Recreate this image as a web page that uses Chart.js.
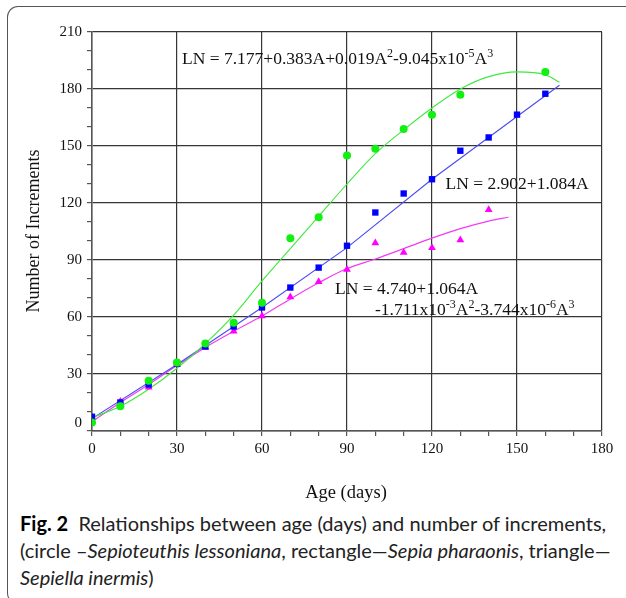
<!DOCTYPE html>
<html lang="en">
<head>
  <meta charset="UTF-8">
  <title>Fig. 2</title>
  <script src="https://cdn.jsdelivr.net/npm/chart.js@4.4.1/dist/chart.umd.min.js"></script>
  <style>
    body {
      margin: 0;
      background: #fff;
      width: 626px;
      height: 598px;
      overflow: hidden;
      position: relative;
    }
    #frame {
      position: absolute;
      left: 7px;
      top: 6px;
      width: 640px;
      height: 596px;
      border: 1.5px solid #555;
      border-right: none;
      border-radius: 11px 0 0 11px;
    }
    #wrap {
      position: absolute;
      left: 0;
      top: 0;
    }
    #caption {
      position: absolute;
      left: 20px;
      top: 510px;
      font-family: Lato, "Noto Sans", sans-serif;
      font-size: 20px;
      line-height: 27px;
      color: #222;
      white-space: nowrap;
    }
    #caption b {
      color: #000;
    }
  </style>
</head>
<body>
  <div id="frame"></div>
  <div id="wrap">
    <canvas id="myChart" width="626" height="510"></canvas>
  </div>
  <div id="caption">
    <b>Fig. 2</b>&nbsp; Relationships between age (days) and number of increments,<br>
    (circle &ndash;<i>Sepioteuthis lessoniana</i>, rectangle&mdash;<i>Sepia pharaonis</i>, triangle&mdash;<br>
    <i>Sepiella inermis</i>)
  </div>
  <script>
    // observed points
    const circleAges = [0, 10, 20, 30, 40, 50, 60, 70, 80, 90, 100, 110, 120, 130, 160];
    const circleInc = [4.5, 13, 26.5, 36, 46, 57, 67.5, 101.5, 112.5, 145, 148.5, 159, 166.5, 177, 189];

    const squareAges = [0, 10, 20, 30, 40, 50, 60, 70, 80, 90, 100, 110, 120, 130, 140, 150, 160];
    const squareInc = [7.5, 15, 24.5, 35.5, 44.5, 55, 65, 75.5, 86, 97.5, 115, 125, 132.5, 147.5, 154.5, 166.5, 177.5];

    const triAges = [0, 10, 20, 30, 40, 50, 60, 70, 80, 90, 100, 110, 120, 130, 140];
    const triInc = [5, 15.5, 23, 35, 44, 52.5, 60.5, 70.5, 78.5, 85, 99, 94, 96.5, 100.5, 116.5];

    // fitted curves
    const circleFitAges = [0, 10, 20, 30, 40, 50, 60, 70, 80, 90, 100, 110, 120, 130, 140, 150, 160, 165];
    const circleFit = [7, 13, 22, 33, 46, 61, 79, 96, 113, 130, 146, 158.5, 170, 180, 186.5, 189, 187.5, 183.5];

    const squareFitAges = [0, 30, 60, 90, 120, 150, 165];
    const squareFit = [6.5, 35, 65, 96.5, 132.5, 165.5, 182];

    const triFitAges = [0, 10, 20, 30, 40, 50, 60, 70, 80, 90, 100, 110, 120, 130, 140, 147];
    const triFit = [5, 15, 24.5, 34.5, 44, 52.5, 60.5, 69.5, 78, 85.5, 90.5, 96, 101.5, 106.5, 110.5, 112.5];

    const xTicks = [0, 30, 60, 90, 120, 150, 180];
    const yTicks = [0, 30, 60, 90, 120, 150, 180, 210];

    // equation labels: [text, superscript?]
    const eqCircle = [['LN = 7.177+0.383A+0.019A', 0], ['2', 1], ['-9.045x10', 0], ['-5', 1], ['A', 0], ['3', 1]];
    const eqSquare = [['LN = 2.902+1.084A', 0]];
    const eqTri1 = [['LN = 4.740+1.064A', 0]];
    const eqTri2 = [['-1.711x10', 0], ['-3', 1], ['A', 0], ['2', 1], ['-3.744x10', 0], ['-6', 1], ['A', 0], ['3', 1]];

    function pts(xs, ys) {
      return xs.map((x, i) => ({ x: x, y: ys[i] }));
    }

    const serif = '"Liberation Serif", "Times New Roman", serif';

    function drawEq(ctx, parts, x, y) {
      for (const [t, sup] of parts) {
        ctx.font = sup ? '12px ' + serif : '17.5px ' + serif;
        ctx.fillText(t, x, sup ? y - 7 : y);
        x += ctx.measureText(t).width;
      }
    }

    const textPlugin = {
      id: 'texts',
      afterDraw(chart) {
        const ctx = chart.ctx;
        const ys = chart.scales.y;
        ctx.save();
        ctx.fillStyle = '#111';

        // y tick labels (the 0 sits a bit above the axis, as in the figure)
        ctx.font = '15px ' + serif;
        ctx.textAlign = 'right';
        ctx.textBaseline = 'middle';
        yTicks.forEach(v => {
          let py = ys.getPixelForValue(v);
          if (v === 0) py -= 8;
          ctx.fillText(String(v), 82, py);
        });

        ctx.textAlign = 'left';
        ctx.textBaseline = 'alphabetic';
        drawEq(ctx, eqCircle, 182, 63.5);
        drawEq(ctx, eqSquare, 445.5, 188.5);
        drawEq(ctx, eqTri1, 335, 293.5);
        drawEq(ctx, eqTri2, 375, 314.5);

        // axis titles
        ctx.textAlign = 'center';
        ctx.textBaseline = 'middle';
        ctx.font = '18.5px ' + serif;
        ctx.fillText('Age (days)', 346, 493);
        ctx.translate(34, 231);
        ctx.rotate(-Math.PI / 2);
        ctx.font = '18px ' + serif;
        ctx.fillText('Number of Increments', 0, 0);
        ctx.restore();
      }
    };

    const gridCol = (vals) => (c) => vals.includes(c.tick.value) ? '#363636' : 'rgba(0,0,0,0)';

    const ctx = document.getElementById('myChart');
    new Chart(ctx, {
      type: 'scatter',
      data: {
        datasets: [
          {
            data: pts(circleFitAges, circleFit), showLine: true, borderColor: '#3ee83e', borderWidth: 1.1,
            pointRadius: 0, cubicInterpolationMode: 'monotone', order: 5
          },
          {
            data: pts(squareFitAges, squareFit), showLine: true, borderColor: '#4a4af5', borderWidth: 1.1,
            pointRadius: 0, order: 5
          },
          {
            data: pts(triFitAges, triFit), showLine: true, borderColor: '#f23cf2', borderWidth: 1.2,
            pointRadius: 0, cubicInterpolationMode: 'monotone', order: 5
          },
          {
            data: pts(triAges, triInc), pointStyle: 'triangle', pointRadius: 4.5,
            backgroundColor: '#ff00ff', borderColor: '#ff00ff', borderWidth: 0, order: 3
          },
          {
            data: pts(squareAges, squareInc), pointStyle: 'rect', pointRadius: 4.5,
            backgroundColor: '#0000ff', borderColor: '#0000ff', borderWidth: 0, order: 2
          },
          {
            data: pts(circleAges, circleInc), pointStyle: 'circle', pointRadius: 4,
            backgroundColor: '#11f011', borderColor: '#11f011', borderWidth: 0, order: 1
          }
        ]
      },
      options: {
        responsive: false,
        animation: false,
        devicePixelRatio: 1,
        layout: { padding: { left: 0, top: 32, right: 24, bottom: 0 } },
        plugins: { legend: { display: false }, tooltip: { enabled: false } },
        scales: {
          x: {
            type: 'linear', min: 0, max: 180,
            afterFit(scale) { scale.height = 79; },
            ticks: {
              stepSize: 10, autoSkip: false, maxRotation: 0, padding: 4,
              color: '#111', font: { family: serif, size: 15 },
              callback: (v) => xTicks.includes(v) ? String(v) : ''
            },
            grid: { color: gridCol(xTicks), tickColor: '#555', tickLength: 5, lineWidth: 1.2 },
            border: { color: '#555', width: 1.5 }
          },
          y: {
            type: 'linear', min: 0, max: 210,
            afterFit(scale) { scale.width = 92; },
            ticks: {
              stepSize: 10, autoSkip: false, padding: 5,
              color: '#111', font: { family: serif, size: 15 },
              callback: () => ''
            },
            grid: { color: gridCol(yTicks), tickColor: '#555', tickLength: 5, lineWidth: 1.2 },
            border: { color: '#555', width: 1.5 }
          }
        }
      },
      plugins: [textPlugin]
    });
  </script>
</body>
</html>
